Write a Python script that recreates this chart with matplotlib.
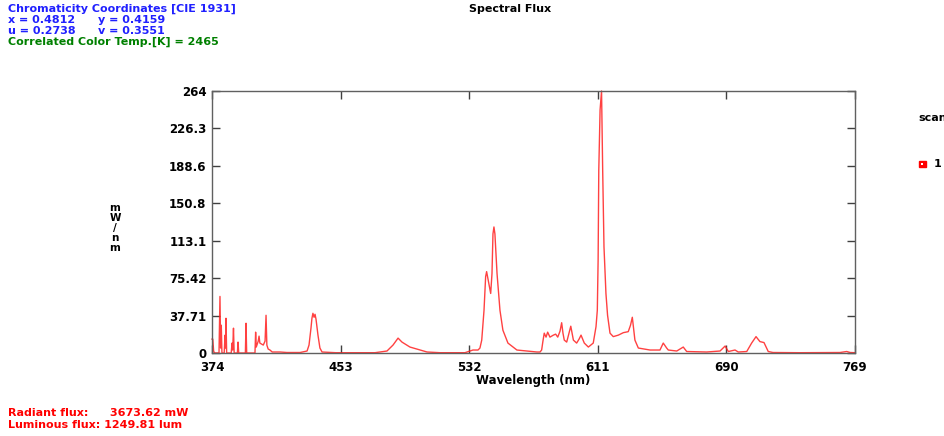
import matplotlib
matplotlib.use('Agg')
import matplotlib.pyplot as plt

# spectrum (nm, mW/nm)
wl = [374.0, 374.5, 375.0, 375.5, 378.3, 378.9, 379.3, 379.7, 380.1, 381.5,
      382.0, 382.3, 382.6, 383.0, 385.8, 386.3, 386.7, 387.2, 387.6, 389.6,
      390.0, 390.4, 394.5, 394.9, 395.3, 400.4, 400.8, 401.2, 401.8, 402.4,
      402.9, 403.4, 404.5, 405.5, 406.6, 407.2, 407.7, 408.5, 409.6, 411.0,
      415.8, 420.0, 428.1, 432.4, 433.6, 434.8, 435.4, 436.0, 436.7, 437.3,
      437.9, 439.1, 440.3, 441.6, 450.0, 474.1, 481.5, 485.2, 488.3, 490.7,
      495.6, 501.8, 506.1, 514.1, 529.4, 534.3, 537.4, 538.6, 539.7, 541.1,
      542.1, 542.7, 543.5, 545.2, 546.0, 546.6, 547.2, 547.8, 549.1, 550.9,
      552.7, 555.8, 561.3, 573.6, 575.5, 576.5, 577.3, 578.1, 579.2, 580.2,
      581.6, 583.7, 585.1, 586.4, 587.8, 588.8, 589.6, 590.4, 591.9, 593.3,
      594.4, 596.0, 598.0, 599.5, 600.7, 602.7, 605.2, 608.2, 609.9, 610.7,
      611.2, 611.6, 612.4, 613.3, 614.0, 614.8, 616.0, 617.0, 618.5,
      620.5, 623.6, 626.7, 629.7, 631.1, 632.2, 633.8, 635.9, 643.1, 649.2,
      651.2, 653.3, 654.3, 659.5, 663.5, 665.6, 677.9, 686.1, 689.2, 691.2,
      695.3, 697.3, 702.5, 705.5, 708.2, 710.6, 713.1, 715.7, 718.6, 735.2,
      759.8, 763.9, 766.0, 769.0]
flux = [14, 14, 2, 0, 0, 57, 5, 28, 0, 0,
        18, 5, 35, 0, 0, 10, 3, 25, 0, 0,
        11, 0, 0, 30, 0, 0, 21, 6, 9, 12,
        17, 10, 9, 8, 12, 38, 8, 4, 3, 1,
        1, 0.5, 0.5, 2, 8, 25, 35, 40, 36, 39,
        34, 18, 5, 1, 0.3, 0.3, 2, 8, 15, 11,
        6, 3, 1, 0.3, 0.3, 3, 3, 5, 13, 43,
        77, 82, 75, 60, 80, 120, 127, 120, 80, 43,
        23, 10, 3, 1, 1, 3, 12, 20, 16, 21,
        16, 18, 19, 16, 22, 30.5, 20, 13, 11, 20,
        27, 13, 10, 14, 18, 10, 6, 10, 26.5, 43,
        94, 184, 245, 264, 184, 107, 60, 38, 20,
        16.5, 18, 20.5, 21.5, 28, 36, 13, 5, 3, 3,
        10, 5, 3, 2, 6, 1.5, 1, 2, 7, 1.5,
        3, 1, 1.5, 10, 16.5, 11.5, 10.5, 1.5, 0.5, 0.3,
        0.5, 1.5, 0.5, 0.3]

xticks = [374, 453, 532, 611, 690, 769]
yticks = [0, 264 / 7, 2 * 264 / 7, 3 * 264 / 7, 4 * 264 / 7, 5 * 264 / 7, 6 * 264 / 7, 264]
ylabels = ['0', '37.71', '75.42', '113.1', '150.8', '188.6', '226.3', '264']

fig = plt.figure(figsize=(9.45, 4.36), dpi=100)
ax = fig.add_axes([212 / 945, 83 / 436, 643 / 945, 262 / 436])

ax.plot(wl, flux, color='#ff2020', lw=1.0, alpha=0.85, clip_on=False)
ax.set_xlim(374, 769)
ax.set_ylim(0, 264)
ax.set_xticks(xticks)
ax.set_xticklabels([str(t) for t in xticks], fontweight='bold', fontsize=8.5)
ax.set_yticks(yticks)
ax.set_yticklabels(ylabels, fontweight='bold', fontsize=8.5)
ax.tick_params(direction='in', length=6, width=1, color='#404040',
               top=True, right=True, pad=4)
ax.tick_params(axis='x', pad=6)
for s in ax.spines.values():
    s.set_color('#606060')
    s.set_linewidth(1)
ax.set_xlabel('Wavelength (nm)', fontweight='bold', fontsize=8.5, labelpad=0)

# stacked unit label
fig.text(115 / 945, 1 - 228 / 436, 'm\nW\n/\nn\nm', ha='center', va='center',
         fontweight='bold', fontsize=7.5, linespacing=1.0)

blue = '#2020ff'
green = '#008000'
kw = dict(fontweight='bold', fontsize=8, va='center')
fig.text(8 / 945, 1 - 9 / 436, 'Chromaticity Coordinates [CIE 1931]', color=blue, **kw)
fig.text(8 / 945, 1 - 20 / 436, 'x = 0.4812', color=blue, **kw)
fig.text(98 / 945, 1 - 20 / 436, 'y = 0.4159', color=blue, **kw)
fig.text(8 / 945, 1 - 31 / 436, 'u = 0.2738', color=blue, **kw)
fig.text(98 / 945, 1 - 31 / 436, 'v = 0.3551', color=blue, **kw)
fig.text(8 / 945, 1 - 42 / 436, 'Correlated Color Temp.[K] = 2465', color=green, **kw)
fig.text(510 / 945, 1 - 9 / 436, 'Spectral Flux', ha='center', color='black', **kw)

# legend drawn by hand, it sits at the right edge and is cut off
fig.text(918 / 945, 1 - 118 / 436, 'scan', color='black', **kw)
fig.patches.append(plt.Rectangle((919 / 945, 1 - 167 / 436), 7 / 945, 6 / 436,
                                 transform=fig.transFigure, facecolor='red',
                                 edgecolor='red', figure=fig))
fig.patches.append(plt.Rectangle((921.5 / 945, 1 - 165 / 436), 2 / 945, 2 / 436,
                                 transform=fig.transFigure, facecolor='white',
                                 edgecolor='none', figure=fig))
fig.text(934 / 945, 1 - 164 / 436, '1', color='black', **kw)

red = '#ff0000'
fig.text(8 / 945, 1 - 413 / 436, 'Radiant flux:', color=red, **kw)
fig.text(110 / 945, 1 - 413 / 436, '3673.62 mW', color=red, **kw)
fig.text(8 / 945, 1 - 425 / 436, 'Luminous flux: 1249.81 lum', color=red, **kw)

fig.savefig('out.png', dpi=100)
